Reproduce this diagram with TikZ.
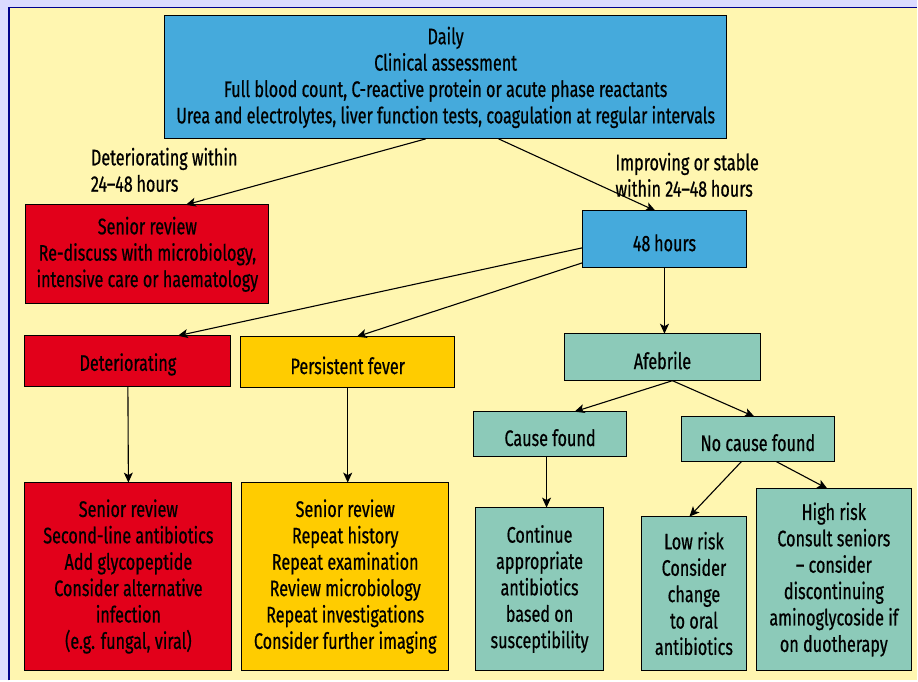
\documentclass[tikz,border=0pt]{standalone}
\usepackage{fontspec}
\setmainfont[FakeStretch=0.72,FakeBold=0.6]{Fira Sans}
\usetikzlibrary{arrows.meta}

\begin{document}
\begin{tikzpicture}[
		x=1pt, y=-1pt,
		%Option for nice arrows
		>={Stealth[length=10pt,width=9pt,inset=2.5pt]}, %
		inner sep=0pt, outer sep=0pt,%
		every node/.style={font=\fontsize{22.5}{26.4}\selectfont},
		box/.style={draw=black, line width=1pt, fill=#1, align=center,
			execute at begin node=\rule{0pt}{24pt}},
		link/.style={->, line width=1.1pt},
		cond/.style={align=left, anchor=west},
	]
		% Colors
		\colorlet{paleblue}{blue!14!white}
		\colorlet{framblue}{blue!55!black}
		\definecolor{paper}{RGB}{255,246,176}
		\definecolor{skyblue}{RGB}{69,170,220}
		\definecolor{alarmred}{RGB}{226,0,26}
		\definecolor{feveryellow}{RGB}{255,204,0}
		\definecolor{teal}{RGB}{140,202,185}

		% Frame
		\fill[paleblue] (0,0) rectangle (918,681);
		\fill[paper] (9,7.5) rectangle (918,681);
		\draw[framblue, line width=1.5pt] (9,681) -- (9,7.5) -- (918,7.5);
		\useasboundingbox (0,0) rectangle (918,681);

		% Boxes
		\node[box=skyblue, minimum width=562, minimum height=123] (daily) at (446,77.5)
			{Daily\\Clinical assessment\\Full blood count, C-reactive protein or acute phase reactants\\Urea and electrolytes, liver function tests, coagulation at regular intervals};
		\node[box=alarmred, minimum width=243, minimum height=99] (senior) at (147.5,254.5)
			{Senior review\\Re-discuss with microbiology,\\intensive care or haematology};
		\node[box=skyblue, minimum width=164, minimum height=57] (hours) at (665,239.5)
			{48\,hours};
		\node[box=alarmred, minimum width=206, minimum height=51] (deter) at (128,361.5)
			{Deteriorating};
		\node[box=feveryellow, minimum width=214, minimum height=51] (fever) at (348,362.5)
			{Persistent fever};
		\node[box=teal, minimum width=196, minimum height=47] (afebrile) at (663,357.5)
			{Afebrile};
		\node[box=teal, minimum width=153, minimum height=45] (cause) at (550.5,434.5)
			{Cause found};
		\node[box=teal, minimum width=153, minimum height=45] (nocause) at (758.5,439.5)
			{No cause found};
		\node[box=alarmred, minimum width=207, minimum height=188] (deteract) at (128.5,577)
			{Senior review\\Second-line antibiotics\\Add glycopeptide\\Consider alternative\\infection\\(e.g. fungal, viral)};
		\node[box=feveryellow, minimum width=207, minimum height=188] (feveract) at (345.5,577)
			{Senior review\\Repeat history\\Repeat examination\\Review microbiology\\Repeat investigations\\Consider further imaging};
		\node[box=teal, minimum width=128, minimum height=163] (continue) at (540,589.5)
			{Continue\\appropriate\\antibiotics\\based on\\susceptibility};
		\node[box=teal, minimum width=105, minimum height=154] (lowrisk) at (694.5,594)
			{Low risk\\Consider\\change\\to oral\\antibiotics};
		\node[box=teal, minimum width=155, minimum height=182] (highrisk) at (834.5,580)
			{High risk\\Consult seniors\\-- consider\\discontinuing\\aminoglycoside if\\on duotherapy};

		% Conditions
		\node[cond] (worse) at (91,170) {Deteriorating within\\24--48\,hours};
		\node[cond] (better) at (616,175) {Improving or stable\\within 24--48\,hours};

		% Arrows
		\draw[link] ([xshift=-20pt]daily.south) -- ([xshift=38.5pt]senior.north);
		\draw[link] ([xshift=53pt]daily.south) -- ([xshift=-9pt]hours.north);
		\draw[link] ([yshift=-8.5pt]hours.west) -- ([xshift=50pt]deter.north);
		\draw[link] ([yshift=-23.5pt]hours.west) -- ([xshift=9pt]fever.north);
		\draw[link] (hours.south) -- (hours.south |- afebrile.north);
		\draw[link] ([xshift=10pt]afebrile.south) -- ([xshift=24.5pt]cause.north);
		\draw[link] ([xshift=10pt]afebrile.south) -- ([xshift=-3.5pt]nocause.north);
		\draw[link] ([xshift=-3.5pt]cause.south) -- ([xshift=-3.5pt]cause.south |- continue.north);
		\draw[link] ([xshift=-16.5pt]nocause.south) -- ([xshift=-4.5pt]lowrisk.north);
		\draw[link] ([xshift=18.5pt]nocause.south) -- ([xshift=-6.5pt]highrisk.north);
		\draw[link] (deter.south) -- (deteract.north);
		\draw[link] (fever.south) -- (fever.south |- feveract.north);
	\end{tikzpicture}
\end{document}
